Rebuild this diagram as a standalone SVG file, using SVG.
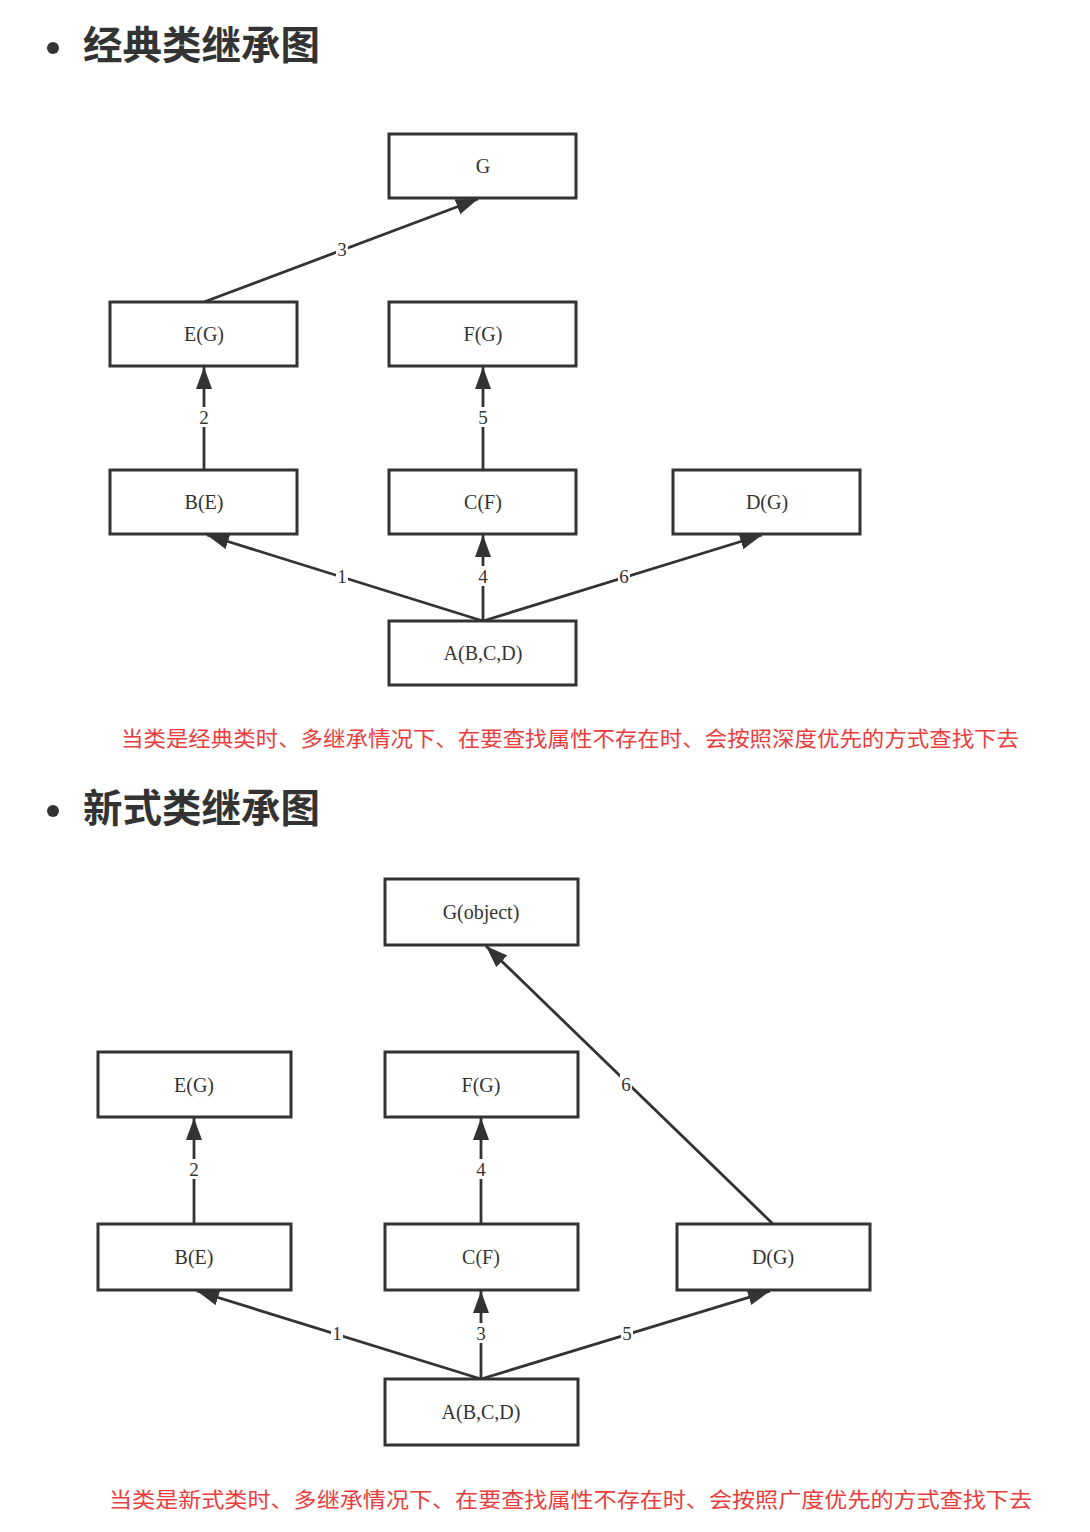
<svg xmlns="http://www.w3.org/2000/svg" width="1090" height="1532" viewBox="0 0 1090 1532">
<style>
.box{fill:#fff;stroke:#333;stroke-width:3}
.lbl{font-family:"Liberation Serif",serif;font-size:20px;fill:#333;text-anchor:middle}
.edge{stroke:#333;stroke-width:2.8;fill:none}
.el{font-family:"Liberation Serif",serif;font-size:19px;fill:#333;text-anchor:middle}
.title{font-family:"Noto Sans CJK SC",sans-serif;font-size:39px;font-weight:bold;fill:#333}
.cap{font-family:"Liberation Serif","Noto Sans CJK SC",serif;font-size:21px;fill:#ea3d3d}
</style>
<defs>
<marker id="ah" markerUnits="userSpaceOnUse" markerWidth="24" markerHeight="18" refX="22" refY="8" orient="auto">
<path d="M0,0 L22,8 L0,16 z" fill="#333"/>
</marker>
</defs>
<rect width="1090" height="1532" fill="#fff"/>

<g id="title1">
<circle cx="53" cy="48" r="6" fill="#333"/>
<text class="title" x="83" y="59" textLength="237" lengthAdjust="spacingAndGlyphs">经典类继承图</text>
</g>

<g id="connectors1">
<line class="edge" x1="204" y1="302" x2="478" y2="199" marker-end="url(#ah)"/>
<line class="edge" x1="204" y1="470" x2="204" y2="367" marker-end="url(#ah)"/>
<line class="edge" x1="483" y1="470" x2="483" y2="367" marker-end="url(#ah)"/>
<line class="edge" x1="483" y1="621" x2="207" y2="535" marker-end="url(#ah)"/>
<line class="edge" x1="483" y1="621" x2="483" y2="535" marker-end="url(#ah)"/>
<line class="edge" x1="483" y1="621" x2="762" y2="535" marker-end="url(#ah)"/>
<rect x="336" y="239" width="12" height="20" fill="#fff"/><text class="el" x="342" y="256">3</text>
<rect x="198" y="407" width="12" height="20" fill="#fff"/><text class="el" x="204" y="424">2</text>
<rect x="477" y="407" width="12" height="20" fill="#fff"/><text class="el" x="483" y="424">5</text>
<rect x="336" y="566" width="12" height="20" fill="#fff"/><text class="el" x="342" y="583">1</text>
<rect x="477" y="566" width="12" height="20" fill="#fff"/><text class="el" x="483" y="583">4</text>
<rect x="618" y="566" width="12" height="20" fill="#fff"/><text class="el" x="624" y="583">6</text>
</g>

<g id="n1-G"><rect class="box" x="389" y="134" width="187" height="64"/><text class="lbl" x="483" y="173">G</text></g>
<g id="n1-E"><rect class="box" x="110" y="302" width="187" height="64"/><text class="lbl" x="204" y="341">E(G)</text></g>
<g id="n1-F"><rect class="box" x="389" y="302" width="187" height="64"/><text class="lbl" x="483" y="341">F(G)</text></g>
<g id="n1-B"><rect class="box" x="110" y="470" width="187" height="64"/><text class="lbl" x="204" y="509">B(E)</text></g>
<g id="n1-C"><rect class="box" x="389" y="470" width="187" height="64"/><text class="lbl" x="483" y="509">C(F)</text></g>
<g id="n1-D"><rect class="box" x="673" y="470" width="187" height="64"/><text class="lbl" x="767" y="509">D(G)</text></g>
<g id="n1-A"><rect class="box" x="389" y="621" width="187" height="64"/><text class="lbl" x="483" y="660">A(B,C,D)</text></g>

<text class="cap" x="121" y="746" textLength="898" lengthAdjust="spacingAndGlyphs">当类是经典类时、多继承情况下、在要查找属性不存在时、会按照深度优先的方式查找下去</text>

<g id="title2">
<circle cx="53" cy="811" r="6" fill="#333"/>
<text class="title" x="83" y="822" textLength="237" lengthAdjust="spacingAndGlyphs">新式类继承图</text>
</g>

<g id="connectors2">
<line class="edge" x1="773" y1="1224" x2="486" y2="946" marker-end="url(#ah)"/>
<line class="edge" x1="194" y1="1224" x2="194" y2="1118" marker-end="url(#ah)"/>
<line class="edge" x1="481" y1="1224" x2="481" y2="1118" marker-end="url(#ah)"/>
<line class="edge" x1="481" y1="1379" x2="197" y2="1291" marker-end="url(#ah)"/>
<line class="edge" x1="481" y1="1379" x2="481" y2="1291" marker-end="url(#ah)"/>
<line class="edge" x1="481" y1="1379" x2="770" y2="1291" marker-end="url(#ah)"/>
<rect x="620" y="1074" width="12" height="20" fill="#fff"/><text class="el" x="626" y="1091">6</text>
<rect x="188" y="1159" width="12" height="20" fill="#fff"/><text class="el" x="194" y="1176">2</text>
<rect x="475" y="1159" width="12" height="20" fill="#fff"/><text class="el" x="481" y="1176">4</text>
<rect x="331" y="1323" width="12" height="20" fill="#fff"/><text class="el" x="337" y="1340">1</text>
<rect x="475" y="1323" width="12" height="20" fill="#fff"/><text class="el" x="481" y="1340">3</text>
<rect x="621" y="1323" width="12" height="20" fill="#fff"/><text class="el" x="627" y="1340">5</text>
</g>

<g id="n2-G"><rect class="box" x="385" y="879" width="193" height="66"/><text class="lbl" x="481" y="919">G(object)</text></g>
<g id="n2-E"><rect class="box" x="98" y="1052" width="193" height="65"/><text class="lbl" x="194" y="1092">E(G)</text></g>
<g id="n2-F"><rect class="box" x="385" y="1052" width="193" height="65"/><text class="lbl" x="481" y="1092">F(G)</text></g>
<g id="n2-B"><rect class="box" x="98" y="1224" width="193" height="66"/><text class="lbl" x="194" y="1264">B(E)</text></g>
<g id="n2-C"><rect class="box" x="385" y="1224" width="193" height="66"/><text class="lbl" x="481" y="1264">C(F)</text></g>
<g id="n2-D"><rect class="box" x="677" y="1224" width="193" height="66"/><text class="lbl" x="773" y="1264">D(G)</text></g>
<g id="n2-A"><rect class="box" x="385" y="1379" width="193" height="66"/><text class="lbl" x="481" y="1419">A(B,C,D)</text></g>

<text class="cap" x="109" y="1507" textLength="923" lengthAdjust="spacingAndGlyphs">当类是新式类时、多继承情况下、在要查找属性不存在时、会按照广度优先的方式查找下去</text>
</svg>
